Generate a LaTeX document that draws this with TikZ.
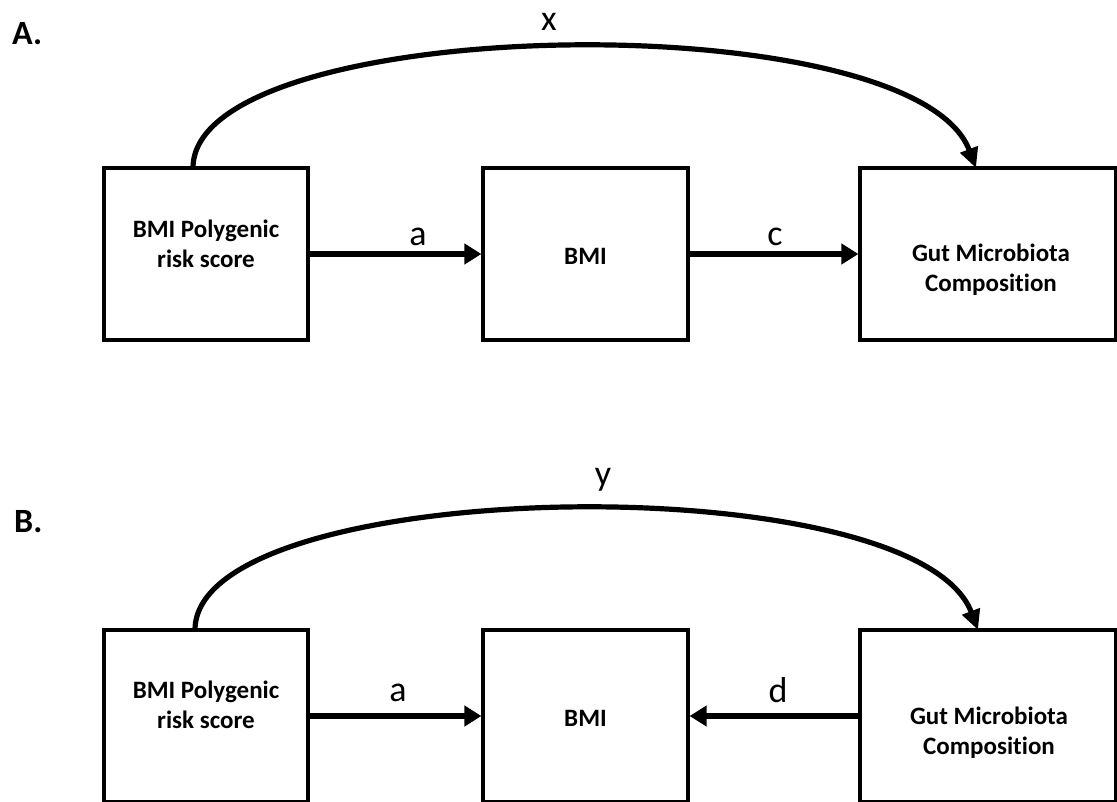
\documentclass[tikz,border=0pt]{standalone}
\usepackage{fontspec}
\setmainfont{Carlito}[Ligatures=NoCommon]
\usetikzlibrary{arrows.meta}
\tikzset{
  box/.style={draw=black, line width=3.2pt, inner sep=0pt, fill=none},
  boxtext/.style={font=\fontsize{25}{30}\selectfont\bfseries, align=center, inner sep=0pt},
  lbl/.style={font=\fontsize{36}{40}\selectfont, inner sep=0pt},
  panel/.style={font=\fontsize{34}{38}\selectfont\bfseries, inner sep=0pt, anchor=west},
  straightarrow/.style={line width=6pt, -{Triangle[length=17pt,width=20pt]}},
  curvearrow/.style={line width=5.2pt, -{Triangle[length=20pt,width=18pt]}},
}
\begin{document}
\begin{tikzpicture}[x=1pt,y=-1pt]
\useasboundingbox (0,0) rectangle (1117,801);
\fill[white] (0,0) rectangle (1117,801);

% ---------- Panel A ----------
\node[panel] (labA) at (12,34) {A.};
\node[box, minimum width=204pt, minimum height=172pt] (A1) at (206,254) {};
\node[box, minimum width=205pt, minimum height=172pt] (A2) at (585.5,254) {};
\node[box, minimum width=256pt, minimum height=172pt] (A3) at (988,254) {};
\node[boxtext] (A1t) at (206,244) {BMI Polygenic\\risk score};
\node[boxtext] (A2t) at (585.5,256) {BMI};
\node[boxtext] (A3t) at (991,270) {Gut Microbiota\\Composition};
\coordinate (A1top) at (193,168);
\coordinate (A3top) at (976,168);
\draw[straightarrow] (A1.east) -- (A2.west);
\draw[straightarrow] (A2.east) -- (A3.west);
\node[lbl] (la) at (418,237) {a};
\node[lbl] (lc) at (775,237) {c};
\draw[curvearrow] (A1top) .. controls (193,13) and (913,1) .. (A3top);
\node[lbl] (lx) at (549,22) {x};

% ---------- Panel B ----------
\node[panel] (labB) at (14,522) {B.};
\node[box, minimum width=204pt, minimum height=172pt] (B1) at (206,716) {};
\node[box, minimum width=205pt, minimum height=172pt] (B2) at (585.5,716) {};
\node[box, minimum width=256pt, minimum height=172pt] (B3) at (988,716) {};
\node[boxtext] (B1t) at (206,705) {BMI Polygenic\\risk score};
\node[boxtext] (B2t) at (585.5,718) {BMI};
\node[boxtext] (B3t) at (989,733) {Gut Microbiota\\Composition};
\coordinate (B1top) at (195,630);
\coordinate (B3top) at (978,630);
\draw[straightarrow] (B1.east) -- (B2.west);
\draw[straightarrow] (B3.west) -- (B2.east);
\node[lbl] (lb) at (398,693) {a};
\node[lbl] (ld) at (778,690) {d};
\draw[curvearrow] (B1top) .. controls (195,475) and (915,463) .. (B3top);
\node[lbl] (ly) at (603,480) {y};
\end{tikzpicture}
\end{document}
